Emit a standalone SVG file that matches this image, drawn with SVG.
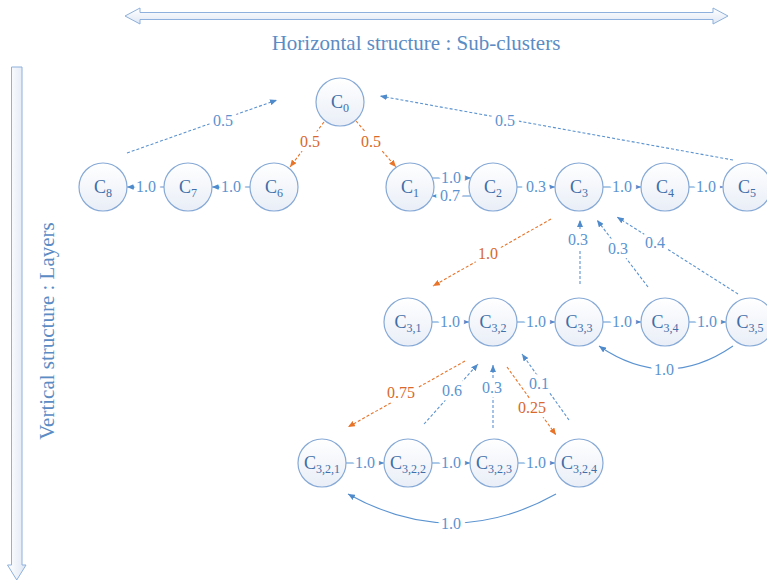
<svg xmlns="http://www.w3.org/2000/svg" width="767" height="583" viewBox="0 0 767 583">
<defs>
<linearGradient id="ng" x1="0" y1="0" x2="0" y2="1"><stop offset="0" stop-color="#ffffff"/><stop offset="1" stop-color="#e9eef7"/></linearGradient>
<linearGradient id="hg" x1="0" y1="0" x2="0" y2="1"><stop offset="0" stop-color="#ffffff"/><stop offset="1" stop-color="#dfe7f4"/></linearGradient>
<linearGradient id="vg" x1="0" y1="0" x2="1" y2="0"><stop offset="0" stop-color="#ffffff"/><stop offset="1" stop-color="#dfe7f4"/></linearGradient>
<marker id="ab" markerUnits="userSpaceOnUse" markerWidth="7" markerHeight="6" viewBox="0 0 7 6" refX="7" refY="3" orient="auto"><path d="M0,0 L7,3 L0,6 z" fill="#4f8acb"/></marker>
<marker id="ao" markerUnits="userSpaceOnUse" markerWidth="7" markerHeight="6" viewBox="0 0 7 6" refX="7" refY="3" orient="auto"><path d="M0,0 L7,3 L0,6 z" fill="#e8742a"/></marker>
</defs>
<style>
.node circle{fill:url(#ng);stroke:#86a9d6;stroke-width:1.2}
.node text{font-family:"Liberation Serif","Times New Roman",serif;font-size:18px;fill:#3f6ea8;text-anchor:middle}
.node tspan{font-size:12px}
.sb{stroke:#5b93d0;stroke-width:1.1;fill:none;marker-end:url(#ab)}
.db{stroke:#5b93d0;stroke-width:1.1;fill:none;stroke-dasharray:3,2;marker-end:url(#ab)}
.do{stroke:#e8742a;stroke-width:1.1;fill:none;stroke-dasharray:3,2;marker-end:url(#ao)}
.lb,.lo{font-family:"Liberation Serif","Times New Roman",serif;font-size:16px;text-anchor:middle;stroke:#ffffff;stroke-width:9;stroke-linejoin:round;paint-order:stroke}
.lb{fill:#5b93d0}
.lo{fill:#d9682a}
.ttl{font-family:"Liberation Serif","Times New Roman",serif;font-size:21px;fill:#5b8cc4;text-anchor:middle}
.big{stroke:#8db0dc;stroke-width:1}
</style>
<g id="structure">
<polygon class="big" fill="url(#hg)" points="125,16 140,8 140,12.5 713,12.5 713,8 728,16 713,24 713,19.5 140,19.5 140,24"/>
<text class="ttl" x="416" y="50">Horizontal structure : Sub-clusters</text>
<polygon class="big" fill="url(#vg)" points="11.5,67 22,67 22,565 26,565 16.75,580 7.5,565 11.5,565"/>
<text class="ttl" transform="translate(54,331) rotate(-90)">Vertical structure : Layers</text>
</g>
<g id="connectors">
<path class="db" d="M127,153 L277,100"/><text class="lb" x="223" y="126">0.5</text>
<path class="db" d="M733,160 L380,96"/><text class="lb" x="505" y="126">0.5</text>
<path class="do" d="M324,122 L290,167"/><text class="lo" x="310" y="147">0.5</text>
<path class="do" d="M356,121 L396,167"/><text class="lo" x="371" y="147">0.5</text>
<path class="sb" d="M250,187 L212,187"/><text class="lb" x="231" y="192">1.0</text>
<path class="sb" d="M164,187 L127,187"/><text class="lb" x="146" y="192">1.0</text>
<path class="sb" d="M432,178 L471,178"/><text class="lb" x="451" y="183">1.0</text>
<path class="sb" d="M471,196 L432,196"/><text class="lb" x="450" y="201">0.7</text>
<path class="sb" d="M517,187 L555,187"/><text class="lb" x="536" y="192">0.3</text>
<path class="sb" d="M603,187 L641,187"/><text class="lb" x="622" y="192">1.0</text>
<path class="sb" d="M689,187 L723,187"/><text class="lb" x="706" y="192">1.0</text>
<path class="do" d="M551,219 L433,286"/><text class="lo" x="488" y="259">1.0</text>
<path class="db" d="M580,284 L580,220"/><text class="lb" x="578" y="245">0.3</text>
<path class="db" d="M648,287 L597,220"/><text class="lb" x="618" y="254">0.3</text>
<path class="db" d="M738,294 L617,217"/><text class="lb" x="655" y="248">0.4</text>
<path class="sb" d="M432,322 L469,322"/><text class="lb" x="450" y="327">1.0</text>
<path class="sb" d="M517,322 L555,322"/><text class="lb" x="536" y="327">1.0</text>
<path class="sb" d="M603,322 L641,322"/><text class="lb" x="622" y="327">1.0</text>
<path class="sb" d="M689,322 L726,322"/><text class="lb" x="707" y="327">1.0</text>
<path class="sb" d="M733,346 Q666,392 599,346"/><text class="lb" x="664" y="375">1.0</text>
<path class="do" d="M465,361 L348,427"/><text class="lo" x="401" y="398">0.75</text>
<path class="db" d="M424,424 L478,364"/><text class="lb" x="452" y="396">0.6</text>
<path class="db" d="M493,428 L493,365"/><text class="lb" x="492" y="393">0.3</text>
<path class="do" d="M507,367 L556,435"/><text class="lo" x="532" y="413">0.25</text>
<path class="db" d="M569,420 L522,354"/><text class="lb" x="539" y="389">0.1</text>
<path class="sb" d="M346,463 L384,463"/><text class="lb" x="365" y="468">1.0</text>
<path class="sb" d="M432,463 L470,463"/><text class="lb" x="451" y="468">1.0</text>
<path class="sb" d="M518,463 L555,463"/><text class="lb" x="536" y="468">1.0</text>
<path class="sb" d="M556,494 Q452,552 348,494"/><text class="lb" x="451" y="529">1.0</text>
</g>
<g id="C0" class="node"><circle cx="340" cy="102" r="24"/><text x="340" y="108">C<tspan dy="4">0</tspan></text></g>
<g id="C1" class="node"><circle cx="410" cy="187" r="24"/><text x="410" y="193">C<tspan dy="4">1</tspan></text></g>
<g id="C2" class="node"><circle cx="493" cy="187" r="24"/><text x="493" y="193">C<tspan dy="4">2</tspan></text></g>
<g id="C3" class="node"><circle cx="579" cy="187" r="24"/><text x="579" y="193">C<tspan dy="4">3</tspan></text></g>
<g id="C4" class="node"><circle cx="665" cy="187" r="24"/><text x="665" y="193">C<tspan dy="4">4</tspan></text></g>
<g id="C5" class="node"><circle cx="747" cy="187" r="24"/><text x="747" y="193">C<tspan dy="4">5</tspan></text></g>
<g id="C6" class="node"><circle cx="274" cy="187" r="24"/><text x="274" y="193">C<tspan dy="4">6</tspan></text></g>
<g id="C7" class="node"><circle cx="188" cy="187" r="24"/><text x="188" y="193">C<tspan dy="4">7</tspan></text></g>
<g id="C8" class="node"><circle cx="103" cy="187" r="24"/><text x="103" y="193">C<tspan dy="4">8</tspan></text></g>
<g id="C3_1" class="node"><circle cx="408" cy="322" r="24"/><text x="408" y="328">C<tspan dy="4">3,1</tspan></text></g>
<g id="C3_2" class="node"><circle cx="493" cy="322" r="24"/><text x="493" y="328">C<tspan dy="4">3,2</tspan></text></g>
<g id="C3_3" class="node"><circle cx="579" cy="322" r="24"/><text x="579" y="328">C<tspan dy="4">3,3</tspan></text></g>
<g id="C3_4" class="node"><circle cx="665" cy="322" r="24"/><text x="665" y="328">C<tspan dy="4">3,4</tspan></text></g>
<g id="C3_5" class="node"><circle cx="750" cy="322" r="24"/><text x="750" y="328">C<tspan dy="4">3,5</tspan></text></g>
<g id="C3_2_1" class="node"><circle cx="322" cy="463" r="24"/><text x="322" y="469">C<tspan dy="4">3,2,1</tspan></text></g>
<g id="C3_2_2" class="node"><circle cx="408" cy="463" r="24"/><text x="408" y="469">C<tspan dy="4">3,2,2</tspan></text></g>
<g id="C3_2_3" class="node"><circle cx="494" cy="463" r="24"/><text x="494" y="469">C<tspan dy="4">3,2,3</tspan></text></g>
<g id="C3_2_4" class="node"><circle cx="579" cy="463" r="24"/><text x="579" y="469">C<tspan dy="4">3,2,4</tspan></text></g>
</svg>
